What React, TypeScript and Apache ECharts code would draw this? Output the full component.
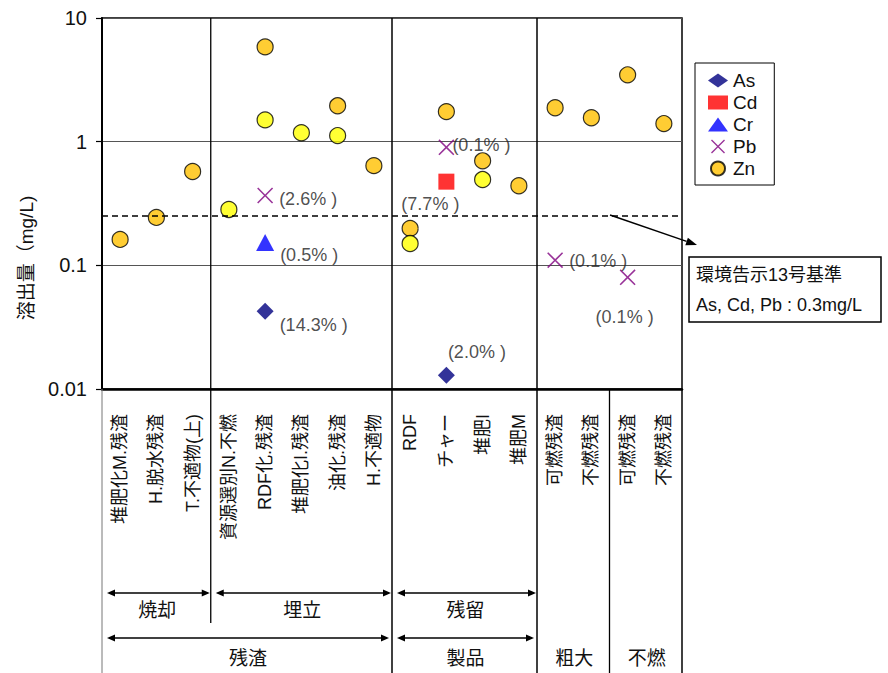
import React, { useEffect, useRef } from "react";
import * as echarts from "echarts";

const categories = [
  "堆肥化M.残渣", "H.脱水残渣", "T.不適物(上)", "資源選別N.不燃", "RDF化.残渣",
  "堆肥化I.残渣", "油化.残渣", "H.不適物", "RDF", "チャー", "堆肥I", "堆肥M",
  "可燃残渣", "不燃残渣", "可燃残渣", "不燃残渣",
];
const yTickLabels = ["0.01", "0.1", "1", "10"];

const asValues = [null, null, null, null, 0.0426, null, null, null, null, 0.0129, null, null, null, null, null, null];
const cdValues = [null, null, null, null, null, null, null, null, null, 0.475, null, null, null, null, null, null];
const crValues = [null, null, null, null, 0.153, null, null, null, null, null, null, null, null, null, null, null];
const pbValues = [null, null, null, null, 0.367, null, null, null, null, 0.9, null, null, 0.11, null, 0.08, null];
const znValues = [0.162, 0.244, 0.574, null, 5.84, null, 1.95, 0.64, 0.199, 1.75, 0.70, 0.44, 1.88, 1.56, 3.47, 1.40];
const zn2Values = [null, null, null, 0.283, 1.5, 1.18, 1.12, null, 0.150, null, 0.494, null, null, null, null, null];

const asShares = [null, null, null, null, "(14.3% )", null, null, null, null, "(2.0% )", null, null, null, null, null, null];
const cdShares = [null, null, null, null, null, null, null, null, null, "(7.7% )", null, null, null, null, null, null];
const crShares = [null, null, null, null, "(0.5% )", null, null, null, null, null, null, null, null, null, null, null];
const pbShares = [null, null, null, null, "(2.6% )", null, null, null, null, "(0.1% )", null, null, "(0.1% )", null, "(0.1% )", null];

const thresholdValue = 0.25;
const calloutLines = ["環境告示13号基準", "As, Cd, Pb : 0.3mg/L"];
const groupRow1 = [
  { name: "焼却", from: 0, to: 3 },
  { name: "埋立", from: 3, to: 8 },
  { name: "残留", from: 8, to: 12 },
];
const groupRow2 = [
  { name: "残渣", from: 0, to: 8, arrow: true },
  { name: "製品", from: 8, to: 12, arrow: true },
  { name: "粗大", from: 12, to: 14, arrow: false },
  { name: "不燃", from: 14, to: 16, arrow: false },
];
const yAxisName = "溶出量（mg/L)";

const FONT = "'Liberation Sans', Arial, 'Noto Sans CJK JP', sans-serif";
const G = { left: 102, top: 18, right: 682, bottom: 389 };
const W = 888;
const H = 673;
const catW = (G.right - G.left) / categories.length;
const bx = (k: number) => G.left + catW * k;

const labelPlacement: Record<string, any> = {
  "Pb-4": { position: "right", distance: 6, offset: [0, 3] },
  "Cr-4": { position: "right", distance: 6, offset: [0, 13] },
  "As-4": { position: "right", distance: 6, offset: [0, 14] },
  "Pb-9": { position: "right", distance: 0, offset: [-2, -2] },
  "Cd-9": { position: "bottom", distance: 5, offset: [-16, 0] },
  "As-9": { position: "right", distance: 0, offset: [-7, -23] },
  "Pb-12": { position: "right", distance: 6, offset: [0, 1] },
  "Pb-14": { position: "bottom", distance: 23, offset: [-3, 0] },
};

const X_PATH =
  "path://M0,7 L7,0 L50,43 L93,0 L100,7 L57,50 L100,93 L93,100 L50,57 L7,100 L0,93 L43,50 Z";

function buildData(name: string, vals: (number | null)[], shares?: (string | null)[]) {
  const out: any[] = [];
  vals.forEach((v, i) => {
    if (v == null) return;
    const item: any = { value: [i, v] };
    const s = shares ? shares[i] : null;
    if (s) {
      const p = labelPlacement[`${name}-${i}`] || { position: "right" };
      item.label = {
        show: true,
        formatter: s,
        color: "#222",
        fontSize: 18,
        fontFamily: FONT,
        ...p,
      };
    }
    out.push(item);
  });
  return out;
}

function doubleArrow(x1: number, x2: number, y: number) {
  const L = 8;
  const hw = 3.5;
  const st = { stroke: "#000", lineWidth: 1.5 };
  return [
    { type: "line", shape: { x1: x1 + 2, y1: y, x2: x2 - 2, y2: y }, style: st },
    { type: "polygon", shape: { points: [[x1, y], [x1 + L, y - hw], [x1 + L, y + hw]] }, style: { fill: "#000" } },
    { type: "polygon", shape: { points: [[x2, y], [x2 - L, y - hw], [x2 - L, y + hw]] }, style: { fill: "#000" } },
  ];
}

export default function App() {
  const ref = useRef<HTMLDivElement>(null);
  useEffect(() => {
    if (!ref.current) return;
    const chart = echarts.init(ref.current, null, { renderer: "svg" });

    const graphics: any[] = [];
    const vline = (x: number, y1: number, y2: number, color = "#000", w = 1.5) =>
      graphics.push({ type: "line", shape: { x1: x, y1, x2: x, y2 }, style: { stroke: color, lineWidth: w }, z: 10 });
    vline(bx(0), G.bottom, H, "#777", 1);
    vline(bx(3), G.top, 623, "#000", 1.3);
    vline(bx(8), G.top, H);
    vline(bx(12), G.top, H);
    vline(bx(14), G.bottom, H, "#000", 1.3);
    vline(bx(16), G.bottom, H);

    groupRow1.forEach((g) => {
      graphics.push(...doubleArrow(bx(g.from) + 5, bx(g.to) - 1, 593));
      graphics.push({
        type: "text",
        style: { text: g.name, x: (bx(g.from) + bx(g.to)) / 2 + 1, y: 610, align: "center", verticalAlign: "middle", font: `19px ${FONT}`, fill: "#111" },
      });
    });
    groupRow2.forEach((g) => {
      if (g.arrow) graphics.push(...doubleArrow(bx(g.from) + 5, bx(g.to) - 3, 638));
      graphics.push({
        type: "text",
        style: { text: g.name, x: (bx(g.from) + bx(g.to)) / 2 + 1, y: 658, align: "center", verticalAlign: "middle", font: `19px ${FONT}`, fill: "#111" },
      });
    });

    graphics.push({ type: "rect", shape: { x: 689, y: 257, width: 192, height: 65 }, style: { fill: "#fff", stroke: "#000", lineWidth: 1.5 } });
    calloutLines.forEach((t, i) => {
      graphics.push({ type: "text", style: { text: t, x: 696, y: 275 + i * 30, verticalAlign: "middle", font: `18px ${FONT}`, fill: "#111" } });
    });
    const ax1 = 610, ay1 = 215, ax2 = 697, ay2 = 245;
    const dx = ax2 - ax1, dy = ay2 - ay1, len = Math.hypot(dx, dy);
    const ux = dx / len, uy = dy / len;
    const bxp = ax2 - 11 * ux, byp = ay2 - 11 * uy;
    graphics.push({ type: "line", shape: { x1: ax1, y1: ay1, x2: bxp, y2: byp }, style: { stroke: "#000", lineWidth: 1.5 } });
    graphics.push({
      type: "polygon",
      shape: { points: [[ax2, ay2], [bxp - 4 * uy, byp + 4 * ux], [bxp + 4 * uy, byp - 4 * ux]] },
      style: { fill: "#000" },
    });

    graphics.push({
      type: "text",
      x: 26,
      y: 258,
      rotation: Math.PI / 2,
      style: { text: yAxisName, x: 0, y: 0, align: "center", verticalAlign: "middle", font: `19px ${FONT}`, fill: "#111" },
    });

    const circleStyle = (c: string) => ({ color: c, borderColor: "#000", borderWidth: 1.2 });

    chart.setOption({
      animation: false,
      backgroundColor: "#fff",
      textStyle: { fontFamily: FONT },
      grid: {
        left: G.left,
        top: G.top,
        width: G.right - G.left,
        height: G.bottom - G.top,
        show: true,
        borderColor: "#000",
        borderWidth: 1.5,
        containLabel: false,
      },
      legend: {
        data: ["As", "Cd", "Cr", "Pb", "Zn"],
        orient: "vertical",
        left: 695,
        top: 63,
        padding: [8, 17, 7, 13],
        itemGap: 3,
        itemWidth: 20,
        itemHeight: 14,
        borderColor: "#000",
        borderWidth: 1,
        backgroundColor: "#fff",
        textStyle: { fontSize: 19, lineHeight: 18, color: "#111", fontFamily: FONT },
      },
      xAxis: {
        type: "category",
        data: categories,
        boundaryGap: true,
        axisLine: { show: true, lineStyle: { color: "#000", width: 2.5 } },
        axisTick: { show: false },
        splitLine: { show: false },
        axisLabel: { interval: 0, rotate: 90, margin: 25, fontSize: 18, color: "#111", fontFamily: FONT },
      },
      yAxis: {
        type: "log",
        logBase: 10,
        min: 0.01,
        max: 10,
        axisLine: { show: true, lineStyle: { color: "#000", width: 2 } },
        axisTick: { show: true, length: 6, lineStyle: { color: "#000", width: 1.2 } },
        splitLine: { show: true, lineStyle: { color: "#555", width: 1 } },
        minorTick: { show: false },
        axisLabel: {
          margin: 15,
          fontSize: 20,
          color: "#111",
          fontFamily: FONT,
          formatter: (v: number) => yTickLabels[Math.round(Math.log10(v)) + 2] ?? "",
        },
      },
      series: [
        {
          name: "Zn",
          type: "scatter",
          symbol: "circle",
          symbolSize: 16,
          itemStyle: circleStyle("#FFC000"),
          data: buildData("Zn", znValues),
          z: 3,
          markLine: {
            silent: true,
            symbol: ["none", "none"],
            label: { show: false },
            lineStyle: { color: "#000", type: [6, 4], width: 1.5 },
            data: [{ yAxis: thresholdValue }],
            z: 5,
          },
        },
        {
          name: "Zn2",
          type: "scatter",
          symbol: "circle",
          symbolSize: 16,
          itemStyle: circleStyle("#FFFF00"),
          data: buildData("Zn2", zn2Values),
          z: 3,
        },
        {
          name: "As",
          type: "scatter",
          symbol: "diamond",
          symbolSize: 17,
          itemStyle: { color: "#000080" },
          data: buildData("As", asValues, asShares),
          z: 4,
        },
        {
          name: "Cd",
          type: "scatter",
          symbol: "rect",
          symbolSize: 16,
          itemStyle: { color: "#FF0000" },
          data: buildData("Cd", cdValues, cdShares),
          z: 4,
        },
        {
          name: "Cr",
          type: "scatter",
          symbol: "triangle",
          symbolSize: [18, 17],
          itemStyle: { color: "#0000FF" },
          data: buildData("Cr", crValues, crShares),
          z: 4,
        },
        {
          name: "Pb",
          type: "scatter",
          symbol: X_PATH,
          symbolSize: 16,
          itemStyle: { color: "#800080" },
          data: buildData("Pb", pbValues, pbShares),
          z: 4,
        },
      ],
      graphic: graphics,
    });

    return () => chart.dispose();
  }, []);

  return (
    <div
      ref={ref}
      style={{ position: "fixed", left: 0, top: 0, width: W, height: H, background: "#fff" }}
    />
  );
}
